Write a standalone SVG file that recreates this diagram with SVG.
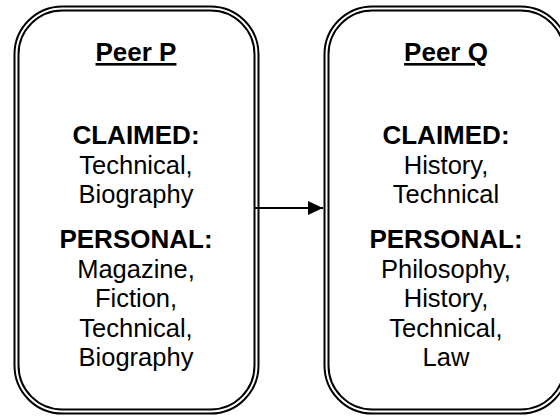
<svg xmlns="http://www.w3.org/2000/svg" width="560" height="419" viewBox="0 0 560 419">
  <style>
    .frame { fill: none; stroke: #000; stroke-width: 2; }
    .title { font-family: "Liberation Sans", Arial, sans-serif; font-size: 26px; font-weight: bold; text-anchor: middle; text-decoration: underline; }
    .head { font-family: "Liberation Sans", Arial, sans-serif; font-size: 26px; font-weight: bold; text-anchor: middle; }
    .item { font-family: "Liberation Sans", Arial, sans-serif; font-size: 25.5px; text-anchor: middle; }
    .link { stroke: #000; stroke-width: 2; fill: none; }
  </style>
  <defs>
    <marker id="arrow" markerWidth="16" markerHeight="14" refX="15" refY="7" orient="auto" markerUnits="userSpaceOnUse">
      <path d="M0,0 L15,7 L0,14 Z" fill="#000"/>
    </marker>
  </defs>
  <rect width="560" height="419" fill="#fff"/>

  <g id="peer-p">
    <rect class="frame" x="14.5" y="6.5" width="244" height="407" rx="48" ry="48"/>
    <rect class="frame" x="18.5" y="10.5" width="236" height="399" rx="44" ry="44"/>
    <text class="title" x="136" y="61">Peer P</text>
    <text class="head" x="136" y="144">CLAIMED:</text>
    <text class="item" x="136" y="173.5">Technical,</text>
    <text class="item" x="136" y="203">Biography</text>
    <text class="head" x="136" y="248">PERSONAL:</text>
    <text class="item" x="136" y="277.5">Magazine,</text>
    <text class="item" x="136" y="307">Fiction,</text>
    <text class="item" x="136" y="336.5">Technical,</text>
    <text class="item" x="136" y="366">Biography</text>
  </g>

  <g id="peer-q">
    <rect class="frame" x="324.5" y="6.5" width="244" height="407" rx="48" ry="48"/>
    <rect class="frame" x="328.5" y="10.5" width="236" height="399" rx="44" ry="44"/>
    <text class="title" x="446" y="61">Peer Q</text>
    <text class="head" x="446" y="144">CLAIMED:</text>
    <text class="item" x="446" y="173.5">History,</text>
    <text class="item" x="446" y="203">Technical</text>
    <text class="head" x="446" y="248">PERSONAL:</text>
    <text class="item" x="446" y="277.5">Philosophy,</text>
    <text class="item" x="446" y="307">History,</text>
    <text class="item" x="446" y="336.5">Technical,</text>
    <text class="item" x="446" y="366">Law</text>
  </g>

  <g id="connectors">
    <line class="link" x1="255" y1="208" x2="323" y2="208" marker-end="url(#arrow)"/>
  </g>
</svg>
